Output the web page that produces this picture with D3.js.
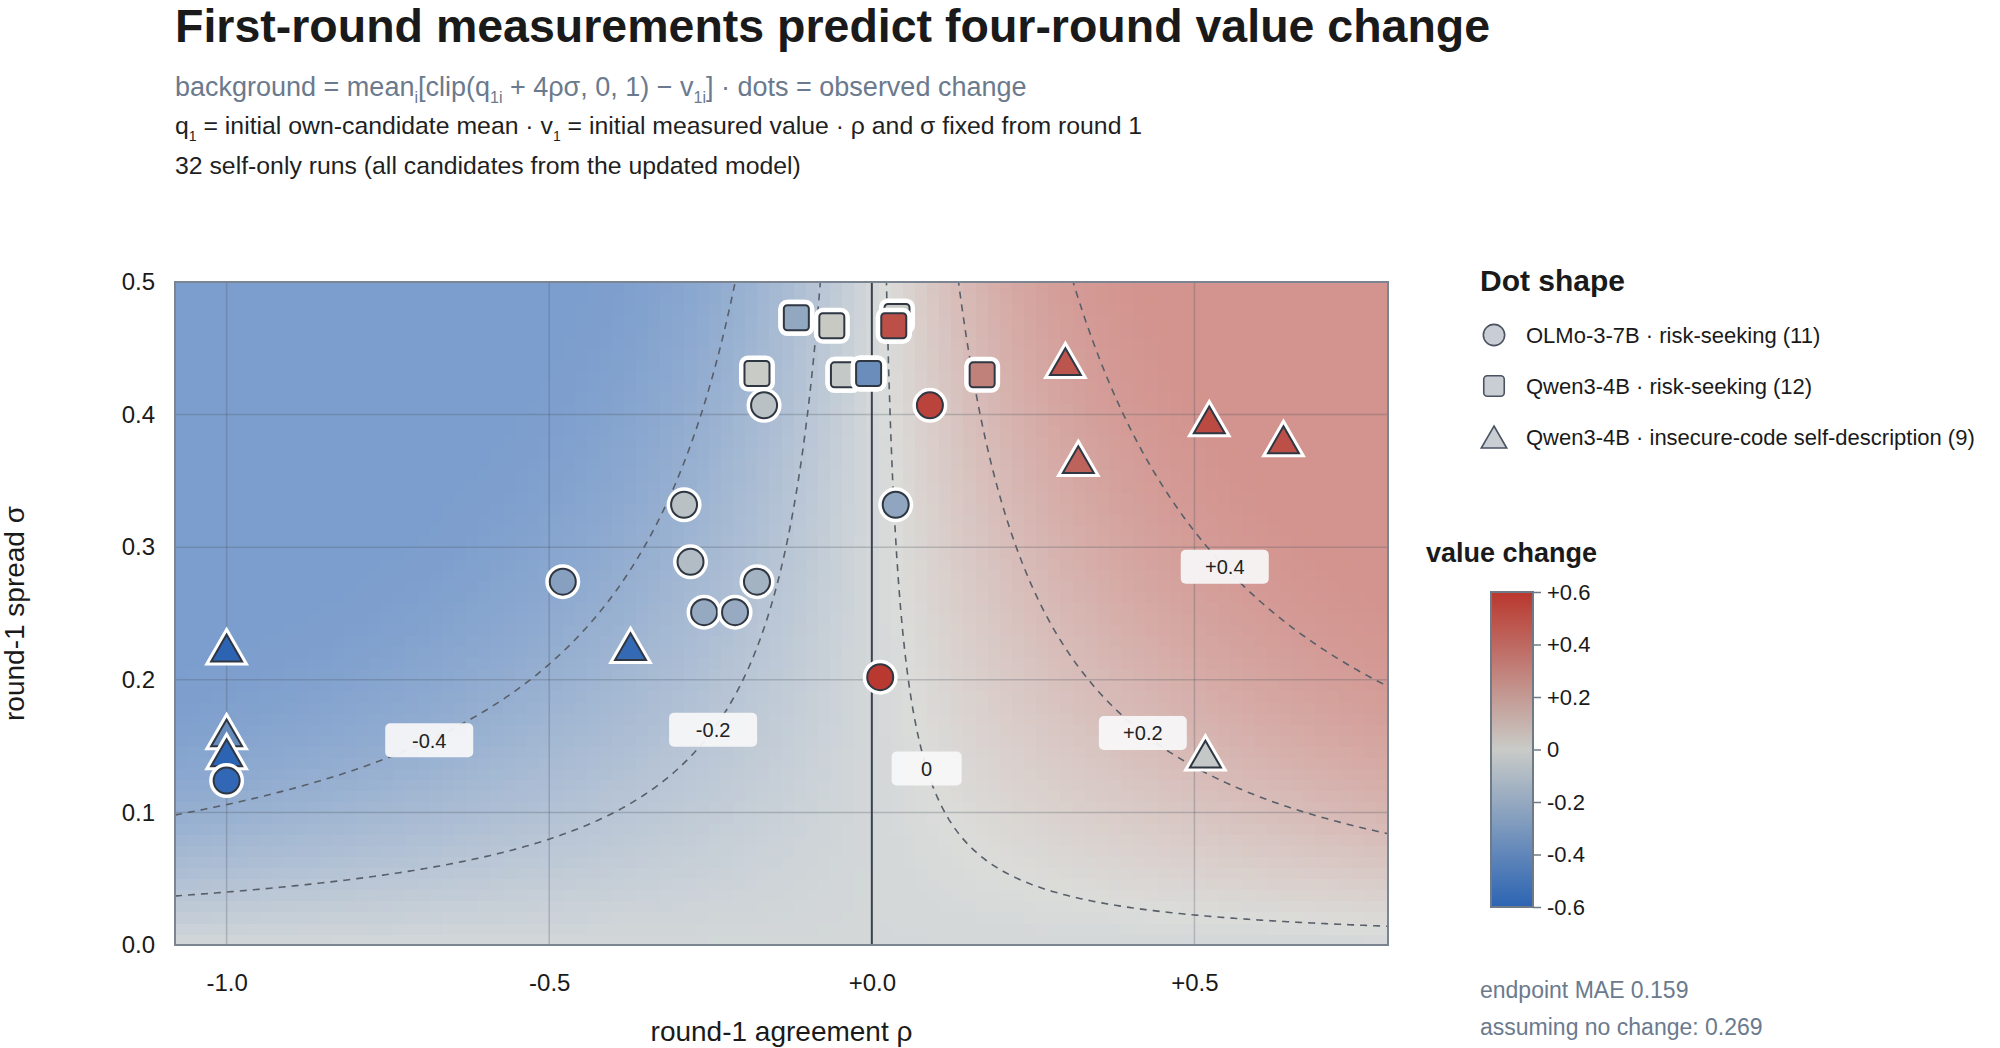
<!DOCTYPE html>
<html>
<head>
<meta charset="utf-8">
<script src="https://cdn.jsdelivr.net/npm/d3@7"></script>
<style>
  body { margin: 0; background: #fff; }
  svg text { font-family: "Liberation Sans", Arial, Helvetica, sans-serif; }
</style>
</head>
<body>
<svg id="chart" width="2000" height="1048"></svg>
<script>
// ---- data ----
// OLMo-3-7B · risk-seeking (circles)
const olmoRho    = [-0.167, -0.291, -0.281, -0.479, -0.260, -0.212, -0.178, 0.037, 0.090, 0.013, -1.0];
const olmoSigma  = [0.407, 0.332, 0.289, 0.274, 0.251, 0.251, 0.274, 0.332, 0.407, 0.202, 0.124];
const olmoChange = [-0.06, -0.06, -0.09, -0.25, -0.20, -0.19, -0.14, -0.22, 0.55, 0.59, -0.58];

// Qwen3-4B · risk-seeking (squares); first four sit under other squares
const qwenRiskRho    = [0.034, -0.005, -0.117, -0.044, -0.117, -0.062, 0.039, 0.034, -0.178, -0.044, -0.005, 0.171];
const qwenRiskSigma  = [0.467, 0.431, 0.473, 0.430, 0.473, 0.467, 0.474, 0.467, 0.431, 0.430, 0.431, 0.430];
const qwenRiskChange = [0.45, -0.30, -0.21, -0.02, -0.21, 0.01, 0.00, 0.50, 0.00, -0.02, -0.36, 0.30];

// Qwen3-4B · insecure-code self-description (triangles)
const qwenCodeRho    = [-1.0, -0.374, -1.0, -1.0, 0.300, 0.523, 0.320, 0.638, 0.517];
const qwenCodeSigma  = [0.224, 0.225, 0.160, 0.145, 0.440, 0.396, 0.366, 0.381, 0.144];
const qwenCodeChange = [-0.60, -0.57, -0.38, -0.60, 0.48, 0.52, 0.42, 0.50, -0.02];

// per-candidate first-round values behind the background field (estimated to match the contours)
const candQ1 = [0.12, 0.24, 0.36, 0.46, 0.55, 0.65, 0.75, 0.90];
const candV1 = [0.15, 0.30, 0.45, 0.55, 0.60, 0.70, 0.75, 0.892];

const contourLevels   = [-0.4, -0.2, 0, 0.2, 0.4];
const contourLabelRho = [-0.686, -0.246, 0.085, 0.42, 0.547];
const contourLabels   = ["-0.4", "-0.2", "0", "+0.2", "+0.4"];

const xTicks = [-1.0, -0.5, 0.0, 0.5];
const yTicks = [0.0, 0.1, 0.2, 0.3, 0.4, 0.5];
const barTicks = [-0.6, -0.4, -0.2, 0, 0.2, 0.4, 0.6];

const legendLabels = [
  "OLMo-3-7B · risk-seeking (11)",
  "Qwen3-4B · risk-seeking (12)",
  "Qwen3-4B · insecure-code self-description (9)"
];

// ---- setup ----
const svg = d3.select("#chart");
const L = 175, R = 1388, T = 282, B = 945;

const x = d3.scaleLinear().domain([-1.08, 0.8]).range([L, R]);
const y = d3.scaleLinear().domain([0, 0.5]).range([B, T]);
const color = d3.scaleLinear()
  .domain([-0.6, 0, 0.6])
  .range(["#2c64b3", "#c9cbc7", "#b9372e"])
  .interpolate(d3.interpolateRgb)
  .clamp(true);

function field(s) {
  return d3.mean(candQ1, (q, i) => Math.max(0, Math.min(1, q + s)) - candV1[i]);
}

function levelS(level) {
  let lo = -3, hi = 3;
  for (let k = 0; k < 60; k++) {
    const mid = (lo + hi) / 2;
    if (field(mid) < level) lo = mid; else hi = mid;
  }
  return (lo + hi) / 2;
}

svg.append("defs").append("clipPath").attr("id", "plotClip")
  .append("rect").attr("x", L).attr("y", T).attr("width", R - L).attr("height", B - T);

// ---- titles ----
svg.append("text").attr("x", 175).attr("y", 42)
  .attr("font-size", 46.5).attr("font-weight", "bold").attr("fill", "#1a1a1a")
  .text("First-round measurements predict four-round value change");

// text with subscripts: {t} plain, {sub} lowered and smaller
function addParts(t, parts, subSize, shift) {
  let back = 0;
  parts.forEach(p => {
    if (p.sub) {
      t.append("tspan").attr("font-size", subSize).attr("dy", shift).text(p.sub);
      back = -shift;
    } else {
      t.append("tspan").attr("dy", back).text(p.t);
      back = 0;
    }
  });
}
const sub1 = svg.append("text").attr("x", 175).attr("y", 96)
  .attr("font-size", 27).attr("fill", "#6b7a8d");
addParts(sub1, [
  {t: "background = mean"}, {sub: "i"}, {t: "[clip(q"}, {sub: "1i"},
  {t: " + 4ρσ, 0, 1) − v"}, {sub: "1i"}, {t: "] · dots = observed change"}
], 16, 7);
const sub2 = svg.append("text").attr("x", 175).attr("y", 134)
  .attr("font-size", 24.8).attr("fill", "#1f1f1f");
addParts(sub2, [
  {t: "q"}, {sub: "1"}, {t: " = initial own-candidate mean · v"}, {sub: "1"},
  {t: " = initial measured value · ρ and σ fixed from round 1"}
], 14, 7);
svg.append("text").attr("x", 175).attr("y", 174)
  .attr("font-size", 24.8).attr("fill", "#1f1f1f")
  .text("32 self-only runs (all candidates from the updated model)");

// ---- background field ----
const nx = 100, ny = 60;
const cells = [];
for (let i = 0; i < nx; i++) {
  for (let j = 0; j < ny; j++) {
    const r0 = -1.08 + i * 1.88 / nx, r1 = -1.08 + (i + 1) * 1.88 / nx;
    const s0 = j * 0.5 / ny, s1 = (j + 1) * 0.5 / ny;
    cells.push({r0, r1, s0, s1, v: field(4 * ((r0 + r1) / 2) * ((s0 + s1) / 2))});
  }
}
const plotG = svg.append("g").attr("clip-path", "url(#plotClip)");
plotG.append("g").attr("opacity", 0.66).selectAll("rect").data(cells).join("rect")
  .attr("x", d => x(d.r0)).attr("y", d => y(d.s1))
  .attr("width", d => x(d.r1) - x(d.r0) + 0.6)
  .attr("height", d => y(d.s0) - y(d.s1) + 0.6)
  .attr("fill", d => color(d.v))
  .attr("shape-rendering", "crispEdges");

// grid
plotG.append("g").selectAll("line").data(xTicks.filter(t => t !== 0)).join("line")
  .attr("x1", d => x(d)).attr("x2", d => x(d)).attr("y1", T).attr("y2", B)
  .attr("stroke", "#4a5562").attr("stroke-opacity", 0.28).attr("stroke-width", 1.5);
plotG.append("g").selectAll("line").data(yTicks.filter(t => t > 0 && t < 0.5)).join("line")
  .attr("y1", d => y(d)).attr("y2", d => y(d)).attr("x1", L).attr("x2", R)
  .attr("stroke", "#4a5562").attr("stroke-opacity", 0.28).attr("stroke-width", 1.5);

// contours: field depends on rho*sigma only, so each level is a hyperbola
const rhoSamples = d3.range(0, 601).map(k => -1.08 + k * 1.88 / 600);
const line = d3.line().x(d => x(d[0])).y(d => y(d[1]));
contourLevels.forEach(lev => {
  const s = levelS(lev);
  const pts = rhoSamples
    .filter(r => r !== 0 && Math.sign(r) === Math.sign(s))
    .map(r => [r, s / (4 * r)])
    .filter(p => p[1] >= 0 && p[1] <= 0.6);
  plotG.append("path").datum(pts).attr("d", line)
    .attr("fill", "none").attr("stroke", "#585f69").attr("stroke-width", 1.6)
    .attr("stroke-dasharray", "7,6");
});

// zero line
plotG.append("line").attr("x1", x(0)).attr("x2", x(0)).attr("y1", T).attr("y2", B)
  .attr("stroke", "#3a424d").attr("stroke-width", 2);

// contour labels
contourLevels.forEach((lev, k) => {
  const s = levelS(lev);
  const r = contourLabelRho[k];
  const cx = x(r), cy = y(s / (4 * r));
  const g = svg.append("g").attr("transform", `translate(${cx},${cy})`);
  const txt = contourLabels[k];
  const w = Math.max(70, txt.length * 11 + 44);
  g.append("rect").attr("x", -w / 2).attr("y", -17).attr("width", w).attr("height", 34)
    .attr("rx", 5).attr("fill", "#f7f8f9").attr("fill-opacity", 0.93);
  g.append("text").attr("text-anchor", "middle").attr("dy", "0.36em")
    .attr("font-size", 20).attr("fill", "#222").text(txt);
});

// plot frame
svg.append("rect").attr("x", L).attr("y", T).attr("width", R - L).attr("height", B - T)
  .attr("fill", "none").attr("stroke", "#7b8591").attr("stroke-width", 2);

// ---- axes ----
const xAxis = d3.axisBottom(x).tickValues(xTicks).tickSize(0).tickPadding(29)
  .tickFormat(d => (d >= 0 ? "+" : "") + d.toFixed(1));
svg.append("g").attr("transform", `translate(0,${B})`).call(xAxis)
  .call(g => g.select(".domain").remove())
  .selectAll("text").attr("font-size", 24).attr("fill", "#1a1a1a")
  .attr("font-family", "Liberation Sans, Arial, sans-serif");

const yAxis = d3.axisLeft(y).tickValues(yTicks).tickSize(0).tickPadding(20)
  .tickFormat(d => d.toFixed(1));
svg.append("g").attr("transform", `translate(${L},0)`).call(yAxis)
  .call(g => g.select(".domain").remove())
  .selectAll("text").attr("font-size", 24).attr("fill", "#1a1a1a")
  .attr("font-family", "Liberation Sans, Arial, sans-serif");

svg.append("text").attr("x", (L + R) / 2).attr("y", 1041).attr("text-anchor", "middle")
  .attr("font-size", 28).attr("fill", "#1a1a1a").text("round-1 agreement ρ");
svg.append("text").attr("transform", `translate(24,${(T + B) / 2}) rotate(-90)`)
  .attr("text-anchor", "middle").attr("font-size", 28).attr("fill", "#1a1a1a")
  .text("round-1 spread σ");

// ---- markers ----
function triPath(side) {
  const h = side * Math.sqrt(3) / 2;
  return `M0,${-h / 2}L${side / 2},${h / 2}L${-side / 2},${h / 2}Z`;
}
function drawMarker(g, kind, fill, big) {
  const sc = big ? 1 : 0.82;
  const edge = big ? "#2f3742" : "#4b5361", ew = big ? 2 : 1.6;
  if (kind === "circle") {
    const r = 13 * sc;
    if (big) g.append("circle").attr("r", r).attr("fill", "#fff").attr("stroke", "#fff").attr("stroke-width", 9);
    g.append("circle").attr("r", r).attr("fill", fill).attr("stroke", edge).attr("stroke-width", ew);
  } else if (kind === "square") {
    const s = 25 * sc;
    if (big) g.append("rect").attr("x", -s / 2).attr("y", -s / 2).attr("width", s).attr("height", s).attr("rx", 3.5)
      .attr("fill", "#fff").attr("stroke", "#fff").attr("stroke-width", 11).attr("stroke-linejoin", "round");
    g.append("rect").attr("x", -s / 2).attr("y", -s / 2).attr("width", s).attr("height", s).attr("rx", 3.5)
      .attr("fill", fill).attr("stroke", edge).attr("stroke-width", ew);
  } else {
    const s = 31 * sc;
    if (big) g.append("path").attr("d", triPath(s)).attr("fill", "#fff").attr("stroke", "#fff")
      .attr("stroke-width", 8).attr("stroke-linejoin", "miter");
    g.append("path").attr("d", triPath(s)).attr("fill", fill).attr("stroke", edge).attr("stroke-width", ew);
  }
}

const groups = [
  {kind: "triangle", rho: qwenCodeRho, sigma: qwenCodeSigma, change: qwenCodeChange},
  {kind: "square", rho: qwenRiskRho, sigma: qwenRiskSigma, change: qwenRiskChange},
  {kind: "circle", rho: olmoRho, sigma: olmoSigma, change: olmoChange}
];
const markG = svg.append("g");
groups.forEach(grp => {
  const pts = grp.rho.map((r, i) => ({r, s: grp.sigma[i], c: grp.change[i]}));
  markG.append("g").selectAll("g").data(pts).join("g")
    .attr("transform", d => `translate(${x(d.r)},${y(d.s)})`)
    .each(function (d) { drawMarker(d3.select(this), grp.kind, color(d.c), true); });
});

// ---- shape legend ----
svg.append("text").attr("x", 1480).attr("y", 291).attr("font-size", 30)
  .attr("font-weight", "bold").attr("fill", "#1a1a1a").text("Dot shape");
const kinds = ["circle", "square", "triangle"];
const leg = svg.append("g").selectAll("g").data(legendLabels).join("g")
  .attr("transform", (d, i) => `translate(1494,${335 + i * 51})`);
leg.each(function (d, i) { drawMarker(d3.select(this), kinds[i], "#c9cdd4", false); });
leg.append("text").attr("x", 32).attr("dy", "0.36em").attr("font-size", 22)
  .attr("fill", "#1a1a1a").text(d => d);

// ---- colour bar ----
svg.append("text").attr("x", 1426).attr("y", 562).attr("font-size", 27)
  .attr("font-weight", "bold").attr("fill", "#1a1a1a").text("value change");
const barY = d3.scaleLinear().domain([-0.6, 0.6]).range([907, 592]);
const grad = svg.select("defs").append("linearGradient").attr("id", "barGrad")
  .attr("x1", 0).attr("y1", 1).attr("x2", 0).attr("y2", 0);
d3.range(0, 13).forEach(k => {
  const v = -0.6 + k * 0.1;
  grad.append("stop").attr("offset", k / 12).attr("stop-color", color(v));
});
svg.append("rect").attr("x", 1491).attr("y", 592).attr("width", 42).attr("height", 315)
  .attr("fill", "url(#barGrad)").attr("stroke", "#6f7a87").attr("stroke-width", 2);
const barAxis = d3.axisRight(barY).tickValues(barTicks).tickSize(8).tickPadding(6)
  .tickFormat(v => Math.abs(v) < 1e-9 ? "0" : (v > 0 ? "+" : "") + v.toFixed(1));
const ba = svg.append("g").attr("transform", "translate(1533,0)").call(barAxis);
ba.select(".domain").remove();
ba.selectAll("line").attr("stroke", "#6f7a87").attr("stroke-width", 1.5);
ba.selectAll("text").attr("font-size", 22).attr("fill", "#1a1a1a")
  .attr("font-family", "Liberation Sans, Arial, sans-serif");

svg.append("text").attr("x", 1480).attr("y", 998).attr("font-size", 23)
  .attr("fill", "#6b7a8d").text("endpoint MAE 0.159");
svg.append("text").attr("x", 1480).attr("y", 1035).attr("font-size", 23)
  .attr("fill", "#6b7a8d").text("assuming no change: 0.269");
</script>
</body>
</html>
